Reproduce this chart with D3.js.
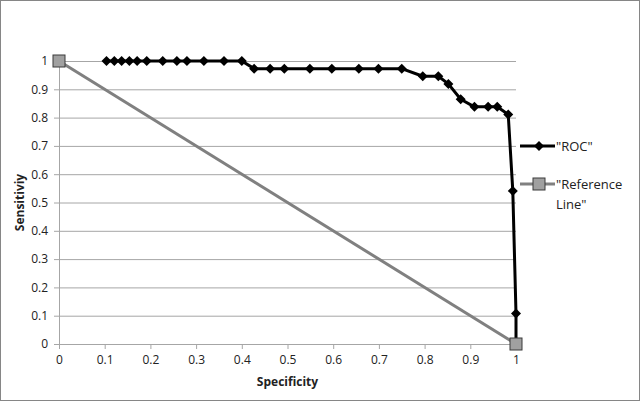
<!DOCTYPE html>
<html>
<head>
<meta charset="utf-8">
<script src="https://cdn.jsdelivr.net/npm/d3@7"></script>
<style>
  body { margin: 0; background: #fff; }
  text { font-family: "Open Sans", "Noto Sans", sans-serif; fill: #222; }
</style>
</head>
<body>
<div id="chart"></div>
<script>
// ROC curve (specificity, sensitivity)
const rocSpec = [0.104, 0.121, 0.137, 0.154, 0.171, 0.192, 0.227, 0.258, 0.280, 0.317, 0.361, 0.400,
  0.427, 0.462, 0.493, 0.549, 0.597, 0.656, 0.699, 0.750, 0.796, 0.830, 0.852, 0.879, 0.909, 0.939,
  0.959, 0.983, 0.993, 1.0, 1.0]
const rocSens = [1, 1, 1, 1, 1, 1, 1, 1, 1, 1, 1, 1,
  0.973, 0.973, 0.973, 0.973, 0.973, 0.973, 0.973, 0.973, 0.946, 0.946, 0.919, 0.865, 0.838, 0.838,
  0.838, 0.811, 0.541, 0.108, 0]
const refSpec = [0, 1]
const refSens = [1, 0]
const xTicks = [0, 0.1, 0.2, 0.3, 0.4, 0.5, 0.6, 0.7, 0.8, 0.9, 1]
const yTicks = [0, 0.1, 0.2, 0.3, 0.4, 0.5, 0.6, 0.7, 0.8, 0.9, 1]

const W = 640, H = 401
const margin = { top: 61, right: 124, bottom: 57, left: 59 }
const width = W - margin.left - margin.right
const height = H - margin.top - margin.bottom

const root = d3.select('#chart').append('svg')
    .attr('width', W)
    .attr('height', H)

root.append('rect')
    .attr('x', 0.5).attr('y', 0.5)
    .attr('width', W - 1).attr('height', H - 1)
    .attr('fill', '#fff')
    .attr('stroke', '#868686')

const svg = root.append('g')
    .attr('transform', `translate(${margin.left}, ${margin.top})`)

const x = d3.scaleLinear().domain([0, 1]).range([0, width])
const y = d3.scaleLinear().domain([0, 1]).range([height, 0])

// gridlines
svg.append('g')
    .call(d3.axisLeft(y).tickValues(yTicks).tickSize(-width).tickFormat(''))
    .call(g => g.select('.domain').remove())
    .call(g => g.selectAll('line').attr('stroke', '#a6a6a6'))

// x axis
svg.append('g')
    .attr('transform', `translate(0, ${height})`)
    .call(d3.axisBottom(x).tickValues(xTicks).tickSize(5).tickSizeOuter(0).tickPadding(6).tickFormat(d3.format('')))
    .call(g => g.select('.domain').attr('stroke', '#a6a6a6'))
    .call(g => g.selectAll('line').attr('stroke', '#a6a6a6'))
    .call(g => g.selectAll('text').style('font-size', '12px').attr('fill', '#222'))

// y axis
svg.append('g')
    .call(d3.axisLeft(y).tickValues(yTicks).tickSize(5).tickSizeOuter(0).tickPadding(6).tickFormat(d3.format('')))
    .call(g => g.select('.domain').attr('stroke', '#a6a6a6'))
    .call(g => g.selectAll('line').attr('stroke', '#a6a6a6'))
    .call(g => g.selectAll('text').style('font-size', '12px').attr('fill', '#222'))

// axis titles
svg.append('text')
    .attr('x', width / 2)
    .attr('y', height + 42)
    .attr('text-anchor', 'middle')
    .style('font-size', '12px')
    .style('font-weight', 'bold')
    .text('Specificity')

svg.append('text')
    .attr('transform', `translate(-35, ${height / 2}) rotate(-90)`)
    .attr('text-anchor', 'middle')
    .style('font-size', '12px')
    .style('font-weight', 'bold')
    .text('Sensitiviy')

const roc = rocSpec.map((d, i) => ({ sx: d, sy: rocSens[i] }))
const ref = refSpec.map((d, i) => ({ sx: d, sy: refSens[i] }))

const line = d3.line().x(d => x(d.sx)).y(d => y(d.sy))

// reference line
svg.append('path')
    .datum(ref)
    .attr('fill', 'none')
    .attr('stroke', '#808080')
    .attr('stroke-width', 3)
    .attr('d', line)

// ROC line
svg.append('path')
    .datum(roc)
    .attr('fill', 'none')
    .attr('stroke', '#000')
    .attr('stroke-width', 3)
    .attr('stroke-linejoin', 'round')
    .attr('d', line)

const diamond = d3.symbol().type(d3.symbolSquare).size(50)

svg.selectAll('.roc-pt')
    .data(roc)
    .enter()
    .append('path')
    .attr('class', 'roc-pt')
    .attr('transform', d => `translate(${x(d.sx)}, ${y(d.sy)}) rotate(45)`)
    .attr('d', diamond)
    .attr('fill', '#000')

svg.selectAll('.ref-pt')
    .data(ref)
    .enter()
    .append('rect')
    .attr('class', 'ref-pt')
    .attr('x', d => x(d.sx) - 6)
    .attr('y', d => y(d.sy) - 6)
    .attr('width', 12)
    .attr('height', 12)
    .attr('fill', '#a0a0a0')
    .attr('stroke', '#3a3a3a')
    .attr('stroke-width', 1)

// legend
const legend = root.append('g').attr('transform', 'translate(520, 0)')

legend.append('line')
    .attr('x1', 0).attr('x2', 35).attr('y1', 146).attr('y2', 146)
    .attr('stroke', '#000').attr('stroke-width', 3)
legend.append('path')
    .attr('transform', 'translate(19, 146) rotate(45)')
    .attr('d', diamond)
    .attr('fill', '#000')
legend.append('text')
    .attr('x', 36).attr('y', 151)
    .style('font-size', '13px')
    .text('"ROC"')

legend.append('line')
    .attr('x1', 0).attr('x2', 35).attr('y1', 184).attr('y2', 184)
    .attr('stroke', '#808080').attr('stroke-width', 3)
legend.append('rect')
    .attr('x', 13).attr('y', 178).attr('width', 12).attr('height', 12)
    .attr('fill', '#a0a0a0').attr('stroke', '#3a3a3a')
legend.append('text')
    .attr('x', 36).attr('y', 189)
    .style('font-size', '13px')
    .text('"Reference')
legend.append('text')
    .attr('x', 36).attr('y', 209)
    .style('font-size', '13px')
    .text('Line"')
</script>
</body>
</html>
